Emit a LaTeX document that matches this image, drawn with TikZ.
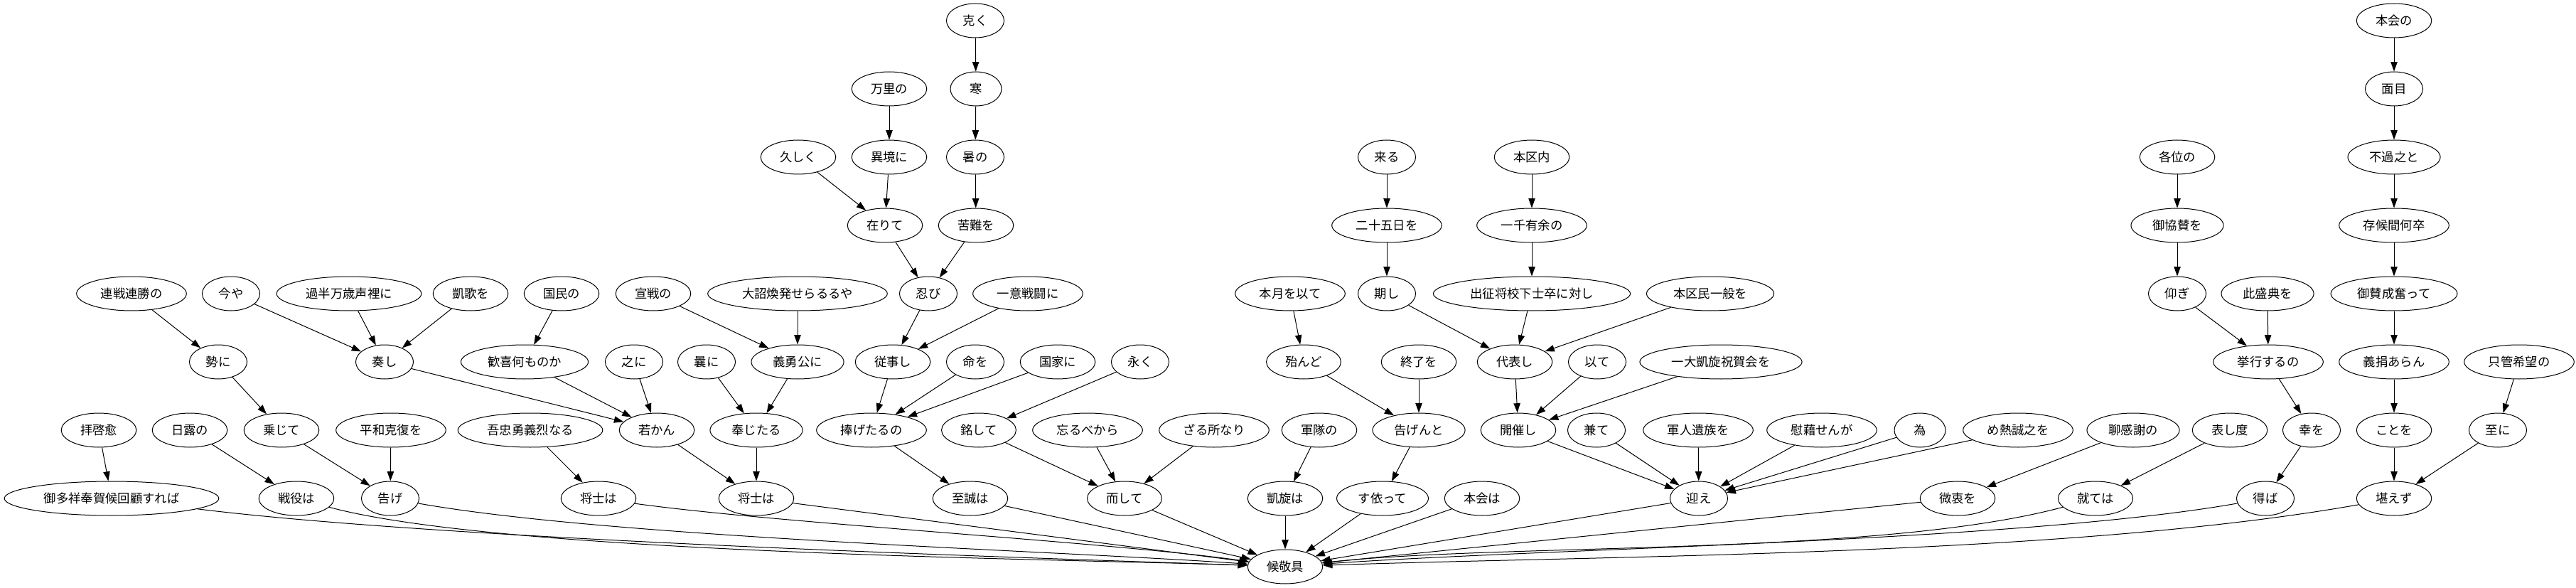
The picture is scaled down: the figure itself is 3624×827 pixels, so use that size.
\documentclass[tikz,border=0pt]{standalone}
\usepackage{fontspec}
\newfontfamily\jpfont{Noto Sans CJK JP}
\usepackage{tikz}
\usetikzlibrary{shapes.geometric, arrows.meta}
\tikzstyle{bunsetsu} = [ellipse, draw=black, line width=0.75pt, inner xsep=8.5pt, inner ysep=4pt, minimum width=54pt, minimum height=36pt, font=\jpfont\fontsize{13pt}{15pt}\selectfont]
\tikzstyle{dep} = [->, >={Triangle[length=10pt,width=7pt]}, line width=0.75pt]

\begin{document}
\begin{tikzpicture}[x=0.75pt, y=-0.75pt]
    \useasboundingbox (0,0) rectangle (3624,827);
    \node[bunsetsu] (a1) at (1372,29) {克く}; \node[bunsetsu] (a2) at (3368,29) {本会の};
    \node[bunsetsu] (b1) at (1251,125) {万里の}; \node[bunsetsu] (b2) at (1373,125) {寒}; \node[bunsetsu] (b3) at (3368,125) {面目};
    \node[bunsetsu] (c1) at (1123,221) {久しく}; \node[bunsetsu] (c2) at (1251,221) {異境に}; \node[bunsetsu] (c3) at (1372,221) {暑の};
    \node[bunsetsu] (c4) at (1951,221) {来る}; \node[bunsetsu] (c5) at (2155,221) {本区内}; \node[bunsetsu] (c6) at (3063,221) {各位の};
    \node[bunsetsu] (c7) at (3368,221) {不過之と};
    \node[bunsetsu] (d1) at (1245,317) {在りて}; \node[bunsetsu] (d2) at (1373,317) {苦難を}; \node[bunsetsu] (d3) at (1951,317) {二十五日を};
    \node[bunsetsu] (d4) at (2155,317) {一千有余の}; \node[bunsetsu] (d5) at (3063,317) {御協賛を}; \node[bunsetsu] (d6) at (3368,317) {存候間何卒};
    \node[bunsetsu] (e1) at (185,413) {連戦連勝の}; \node[bunsetsu] (e2) at (325,413) {今や}; \node[bunsetsu] (e3) at (491,413) {過半万歳声裡に};
    \node[bunsetsu] (e4) at (662,413) {凱歌を}; \node[bunsetsu] (e5) at (790,413) {国民の}; \node[bunsetsu] (e6) at (919,413) {宣戦の};
    \node[bunsetsu] (e7) at (1122,413) {大詔煥発せらるるや}; \node[bunsetsu] (e8) at (1306,413) {忍び}; \node[bunsetsu] (e9) at (1446,413) {一意戦闘に};
    \node[bunsetsu] (e10) at (1815,413) {本月を以て}; \node[bunsetsu] (e11) at (1951,413) {期し}; \node[bunsetsu] (e12) at (2155,413) {出征将校下士卒に対し};
    \node[bunsetsu] (e13) at (2406,413) {本区民一般を}; \node[bunsetsu] (e14) at (3063,413) {仰ぎ}; \node[bunsetsu] (e15) at (3190,413) {此盛典を};
    \node[bunsetsu] (e16) at (3368,413) {御賛成奮って};
    \node[bunsetsu] (f1) at (307,509) {勢に}; \node[bunsetsu] (f2) at (541,509) {奏し}; \node[bunsetsu] (f3) at (738,509) {歓喜何ものか};
    \node[bunsetsu] (f4) at (892,509) {之に}; \node[bunsetsu] (f5) at (994,509) {曩に}; \node[bunsetsu] (f6) at (1122,509) {義勇公に};
    \node[bunsetsu] (f7) at (1256,509) {従事し}; \node[bunsetsu] (f8) at (1372,509) {命を}; \node[bunsetsu] (f9) at (1488,509) {国家に};
    \node[bunsetsu] (f10) at (1604,509) {永く}; \node[bunsetsu] (f11) at (1834,509) {殆んど}; \node[bunsetsu] (f12) at (1996,509) {終了を};
    \node[bunsetsu] (f13) at (2131,509) {代表し}; \node[bunsetsu] (f14) at (2247,509) {以て}; \node[bunsetsu] (f15) at (2421,509) {一大凱旋祝賀会を};
    \node[bunsetsu] (f16) at (3191,509) {挙行するの}; \node[bunsetsu] (f17) at (3368,509) {義捐あらん}; \node[bunsetsu] (f18) at (3544,509) {只管希望の};
    \node[bunsetsu] (g1) at (139,605) {拝啓愈}; \node[bunsetsu] (g2) at (267,605) {日露の}; \node[bunsetsu] (g3) at (396,605) {乗じて};
    \node[bunsetsu] (g4) at (550,605) {平和克復を}; \node[bunsetsu] (g5) at (746,605) {吾忠勇義烈なる}; \node[bunsetsu] (g6) at (924,605) {若かん};
    \node[bunsetsu] (g7) at (1064,605) {奉じたる}; \node[bunsetsu] (g8) at (1226,605) {捧げたるの}; \node[bunsetsu] (g9) at (1377,605) {銘して};
    \node[bunsetsu] (g10) at (1530,605) {忘るべから}; \node[bunsetsu] (g11) at (1708,605) {ざる所なり}; \node[bunsetsu] (g12) at (1856,605) {軍隊の};
    \node[bunsetsu] (g13) at (1996,605) {告げんと}; \node[bunsetsu] (g14) at (2136,605) {開催し}; \node[bunsetsu] (g15) at (2246,605) {兼て};
    \node[bunsetsu] (g16) at (2389,605) {軍人遺族を}; \node[bunsetsu] (g17) at (2563,605) {慰藉せんが}; \node[bunsetsu] (g18) at (2701,605) {為};
    \node[bunsetsu] (g19) at (2839,605) {め熱誠之を}; \node[bunsetsu] (g20) at (3001,605) {聊感謝の}; \node[bunsetsu] (g21) at (3137,605) {表し度};
    \node[bunsetsu] (g22) at (3252,605) {幸を}; \node[bunsetsu] (g23) at (3368,605) {ことを}; \node[bunsetsu] (g24) at (3514,605) {至に};
    \node[bunsetsu] (h1) at (157,701) {御多祥奉賀候回顧すれば}; \node[bunsetsu] (h2) at (417,701) {戦役は}; \node[bunsetsu] (h3) at (549,701) {告げ};
    \node[bunsetsu] (h4) at (842,701) {将士は}; \node[bunsetsu] (h5) at (1064,701) {将士は}; \node[bunsetsu] (h6) at (1365,701) {至誠は};
    \node[bunsetsu] (h7) at (1582,701) {而して}; \node[bunsetsu] (h8) at (1808,701) {凱旋は}; \node[bunsetsu] (h9) at (1945,701) {す依って};
    \node[bunsetsu] (h10) at (2085,701) {本会は}; \node[bunsetsu] (h11) at (2390,701) {迎え}; \node[bunsetsu] (h12) at (2754,701) {微衷を};
    \node[bunsetsu] (h13) at (2948,701) {就ては}; \node[bunsetsu] (h14) at (3187,701) {得ば}; \node[bunsetsu] (h15) at (3368,701) {堪えず};
    \node[bunsetsu] (root) at (1808,797) {候敬具};
    \draw[dep] (a1) -- (b2); \draw[dep] (b2) -- (c3); \draw[dep] (c3) -- (d2); \draw[dep] (b1) -- (c2);
    \draw[dep] (c1) -- (d1); \draw[dep] (c2) -- (d1); \draw[dep] (d1) -- (e8); \draw[dep] (d2) -- (e8);
    \draw[dep] (a2) -- (b3); \draw[dep] (b3) -- (c7); \draw[dep] (c7) -- (d6); \draw[dep] (d6) -- (e16);
    \draw[dep] (e16) -- (f17); \draw[dep] (f17) -- (g23); \draw[dep] (g23) -- (h15);
    \draw[dep] (f18) -- (g24); \draw[dep] (g24) -- (h15);
    \draw[dep] (c6) -- (d5); \draw[dep] (d5) -- (e14); \draw[dep] (e14) -- (f16); \draw[dep] (e15) -- (f16);
    \draw[dep] (f16) -- (g22); \draw[dep] (g22) -- (h14);
    \draw[dep] (g20) -- (h12); \draw[dep] (g21) -- (h13);
    \draw[dep] (c4) -- (d3); \draw[dep] (d3) -- (e11); \draw[dep] (e11) -- (f13);
    \draw[dep] (c5) -- (d4); \draw[dep] (d4) -- (e12); \draw[dep] (e12) -- (f13); \draw[dep] (e13) -- (f13);
    \draw[dep] (f13) -- (g14); \draw[dep] (f14) -- (g14); \draw[dep] (f15) -- (g14);
    \draw[dep] (g14) -- (h11); \draw[dep] (g15) -- (h11); \draw[dep] (g16) -- (h11);
    \draw[dep] (g17) -- (h11); \draw[dep] (g18) -- (h11); \draw[dep] (g19) -- (h11);
    \draw[dep] (e10) -- (f11); \draw[dep] (f11) -- (g13); \draw[dep] (f12) -- (g13); \draw[dep] (g13) -- (h9);
    \draw[dep] (g12) -- (h8);
    \draw[dep] (e8) -- (f7); \draw[dep] (e9) -- (f7); \draw[dep] (f7) -- (g8); \draw[dep] (f8) -- (g8);
    \draw[dep] (f9) -- (g8); \draw[dep] (g8) -- (h6);
    \draw[dep] (f10) -- (g9); \draw[dep] (g9) -- (h7); \draw[dep] (g10) -- (h7); \draw[dep] (g11) -- (h7);
    \draw[dep] (e6) -- (f6); \draw[dep] (e7) -- (f6); \draw[dep] (f5) -- (g7); \draw[dep] (f6) -- (g7);
    \draw[dep] (g7) -- (h5); \draw[dep] (g6) -- (h5);
    \draw[dep] (e5) -- (f3); \draw[dep] (f3) -- (g6); \draw[dep] (f4) -- (g6); \draw[dep] (f2) -- (g6);
    \draw[dep] (e2) -- (f2); \draw[dep] (e3) -- (f2); \draw[dep] (e4) -- (f2);
    \draw[dep] (g5) -- (h4);
    \draw[dep] (e1) -- (f1); \draw[dep] (f1) -- (g3); \draw[dep] (g3) -- (h3); \draw[dep] (g4) -- (h3);
    \draw[dep] (g2) -- (h2); \draw[dep] (g1) -- (h1);
    \foreach \k in {5,...,12} {\draw[dep] (h\k) -- (root);}
    \draw[dep] (h1.-7) .. controls +(348,43) and +(-351,-12) .. (root.178);
    \draw[dep] (h2.-15) .. controls +(245,66) and +(-254,-9) .. (root.178);
    \draw[dep] (h3.-10) .. controls +(270,48) and +(-273,-19) .. (root.176);
    \draw[dep] (h4.-8) .. controls +(202,28) and +(-200,-28) .. (root.172);
    \draw[dep] (h13.195) .. controls +(-258,69) and +(265,-28) .. (root.6);
    \draw[dep] (h14.190) .. controls +(-306,54) and +(310,-22) .. (root.4);
    \draw[dep] (h15.190) .. controls +(-406,72) and +(412,-14) .. (root.2);
\end{tikzpicture}
\end{document}
